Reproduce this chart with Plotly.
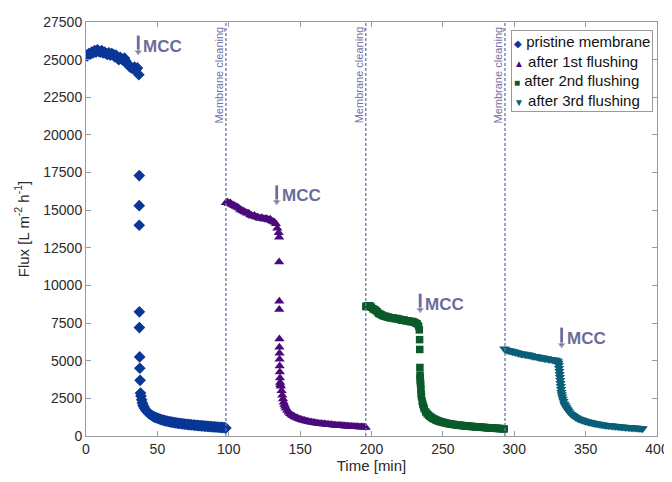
import plotly.graph_objects as go

# ---------------- data ----------------
t_pristine = [0, 1, 2, 3, 4, 5, 6, 7, 8, 9, 10, 11, 12, 13, 14, 15, 16, 17, 18, 19,
              20, 21, 22, 23, 24, 25, 26, 27, 28, 29, 30, 31, 32, 33, 34, 35, 36, 37,
              37.3, 37.3, 37.3, 37.4, 37.4, 37.6, 37.7, 37.9, 38.2,
              38.5, 39, 39.5, 40, 40.5, 41, 42, 43, 44, 45, 46, 47, 48, 49, 50, 51, 52,
              53, 54, 55, 56, 57, 58, 59, 60, 61, 62, 63, 64, 65, 66, 67, 68, 69, 70,
              71, 72, 73, 74, 75, 76, 77, 78, 79, 80, 81, 82, 83, 84, 85, 86, 87, 88,
              89, 90, 91, 92, 93, 94, 95, 96, 97, 98]
f_pristine = [25300, 25250, 25400, 25350, 25500, 25450, 25600, 25500, 25650, 25550,
              25500, 25600, 25450, 25500, 25400, 25350, 25450, 25300, 25400, 25350,
              25200, 25300, 25100, 25000, 25150, 25050, 24950, 25100, 24900, 24750,
              24600, 24500, 24450, 24400, 24500, 24350, 24450, 24000,
              17300, 15300, 14000, 8250, 7200, 5250, 4500, 3700, 2850,
              2650, 2400, 2200, 2050, 1950, 1850, 1700, 1600, 1500, 1430, 1370, 1310,
              1260, 1220, 1180, 1150, 1110, 1080, 1050, 1020, 1000, 980, 960, 940, 920,
              905, 890, 875, 860, 845, 830, 818, 805, 792, 780, 770, 760, 750, 740, 730,
              720, 710, 700, 692, 685, 678, 670, 660, 650, 642, 635, 628, 620, 612, 605,
              598, 590, 582, 575, 568, 560, 550, 530]

t_flush1 = [98, 99, 100, 101, 102, 103, 104, 105, 106, 107, 108, 109, 110, 111, 112,
            113, 114, 115, 116, 117, 118, 119, 120, 121, 122, 123, 124, 125, 126, 127,
            128, 129, 130, 131, 132, 133, 134, 135, 135.3,
            135.3, 135.4, 135.4, 135.5, 135.5, 135.6, 135.6, 135.7, 135.8, 135.9, 136.0, 136.1,
            136.5, 137, 137.5, 138, 138.5, 139, 139.5, 140, 141, 142, 143, 144, 145, 146,
            147, 148, 149, 150, 151, 152, 153, 154, 155, 156, 157, 158, 159, 160, 161,
            162, 163, 164, 165, 166, 167, 168, 169, 170, 171, 172, 173, 174, 175, 176,
            177, 178, 179, 180, 181, 182, 183, 184, 185, 186, 187, 188, 189, 190, 191,
            192, 193, 194, 195, 196]
f_flush1 = [15500, 15550, 15450, 15500, 15400, 15350, 15300, 15250, 15200, 15150,
            15050, 15000, 14950, 14900, 14850, 14800, 14800, 14700, 14650, 14600,
            14650, 14550, 14550, 14500, 14450, 14500, 14450, 14400, 14450, 14400,
            14350, 14400, 14300, 14250, 14200, 14100, 13800, 13500, 13200,
            11550, 8950, 8400, 6450, 5900, 5500, 5100, 4650, 4250, 3850, 3550, 3400,
            3300, 3000, 2700, 2450, 2250, 2100, 1970, 1850, 1700, 1580, 1480, 1400,
            1340, 1280, 1230, 1190, 1150, 1110, 1080, 1050, 1025, 1000, 975, 950, 930,
            910, 895, 880, 865, 850, 835, 820, 810, 800, 790, 780, 770, 760, 750, 740,
            730, 720, 712, 705, 698, 690, 682, 675, 668, 660, 652, 645, 638, 630, 625,
            620, 615, 610, 605, 600, 595, 590, 582, 570]

t_flush2 = [196, 197, 198, 199, 200, 201, 202, 203, 204, 205, 206, 207, 208, 209, 210,
            211, 212, 213, 214, 215, 216, 217, 218, 219, 220, 221, 222, 223, 224, 225,
            226, 227, 228, 229, 230, 231, 232, 233, 233.5,
            233.7, 233.8, 233.9, 234, 234.1, 234.2, 234.3, 234.4, 234.6, 234.8, 235, 235.5,
            236, 236.5, 237, 238, 239, 240, 241, 242, 243, 244, 245, 246, 247, 248, 249,
            250, 251, 252, 253, 254, 255, 256, 257, 258, 259, 260, 261, 262, 263, 264,
            265, 266, 267, 268, 269, 270, 271, 272, 273, 274, 275, 276, 277, 278, 279,
            280, 281, 282, 283, 284, 285, 286, 287, 288, 289, 290, 291, 292, 293]
f_flush2 = [8600, 8650, 8600, 8650, 8550, 8450, 8400, 8350, 8250, 8150, 8100, 8050,
            8000, 7950, 7950, 7900, 7900, 7850, 7850, 7850, 7800, 7800, 7800, 7750,
            7750, 7700, 7700, 7700, 7650, 7650, 7650, 7600, 7600, 7600, 7550, 7500,
            7450, 7300, 7050,
            6400, 5750, 4550, 4050, 3880, 3700, 3550, 3400, 3100, 2800, 2600, 2300,
            2100, 1950, 1800, 1600, 1480, 1380, 1300, 1230, 1170, 1120, 1070, 1030, 990,
            960, 935, 910, 885, 860, 840, 820, 805, 790, 775, 760, 745, 730, 720, 710,
            700, 690, 680, 670, 660, 650, 642, 635, 628, 620, 612, 605, 598, 590, 582,
            575, 568, 560, 552, 545, 538, 530, 525, 520, 512, 505, 500, 495, 488, 480,
            470]

t_flush3 = [293, 294, 295, 296, 297, 298, 299, 300, 301, 302, 303, 304, 305, 306, 307,
            308, 309, 310, 311, 312, 313, 314, 315, 316, 317, 318, 319, 320, 321, 322,
            323, 324, 325, 326, 327, 328, 329, 330, 330.5, 331, 331.2, 331.4, 331.6,
            331.8, 332, 332.2, 332.4, 332.6, 332.8, 333, 333.3, 333.6, 334, 334.5, 335,
            335.5, 336, 336.5, 337, 337.5, 338, 339, 340, 341, 342, 343, 344, 345, 346,
            347, 348, 349, 350, 351, 352, 353, 354, 355, 356, 357, 358, 359, 360, 361,
            362, 363, 364, 365, 366, 367, 368, 369, 370, 371, 372, 373, 374, 375, 376,
            377, 378, 379, 380, 381, 382, 383, 384, 385, 386, 387, 388, 389, 390]
f_flush3 = [5800, 5750, 5700, 5700, 5650, 5650, 5600, 5600, 5550, 5550, 5500, 5500,
            5450, 5450, 5450, 5400, 5400, 5400, 5350, 5350, 5300, 5300, 5300, 5250,
            5250, 5200, 5200, 5200, 5150, 5150, 5150, 5100, 5100, 5100, 5050, 5050,
            5050, 5000, 4950, 4850, 4700, 4500, 4300, 4100, 3900, 3700, 3500, 3300,
            3100, 2900, 2750, 2600, 2450, 2300, 2150, 2050, 1950, 1870, 1800, 1720,
            1650, 1550, 1450, 1380, 1310, 1250, 1200, 1150, 1110, 1075, 1040, 1010,
            980, 955, 930, 910, 890, 870, 850, 830, 810, 795, 780, 765, 750, 735, 720,
            710, 700, 690, 680, 670, 660, 650, 640, 630, 620, 610, 600, 592, 585, 578,
            570, 562, 555, 548, 540, 532, 525, 518, 510, 505, 500]

series_names = ["pristine membrane", "after 1st flushing", "after 2nd flushing", "after 3rd flushing"]
series_colors = ["#0a3796", "#4a0a7c", "#0a5a2a", "#0a5f78"]
series_symbols = ["diamond", "triangle-up", "square", "triangle-down"]
legend_glyphs = ["\u25C6", "\u25B2", "\u25A0", "\u25BC"]

cleaning_times = [98, 196, 293.5]
mcc_times = [36.6, 133.6, 234.1, 333.2]
mcc_top_flux = [26600, 16650, 9450, 7200]
mcc_head_flux = [25500, 15550, 8380, 6050]
mcc_label_flux = [25900, 15950, 8750, 6500]

x_ticks = [0, 50, 100, 150, 200, 250, 300, 350, 400]
y_ticks = [0, 2500, 5000, 7500, 10000, 12500, 15000, 17500, 20000, 22500, 25000, 27500]

FONT = "Liberation Sans, Arial, sans-serif"

# ---------------- figure ----------------
fig = go.Figure()
all_t = [t_pristine, t_flush1, t_flush2, t_flush3]
all_f = [f_pristine, f_flush1, f_flush2, f_flush3]
sizes = [9, 9, 7.5, 9]
for t, f, name, col, sym, sz in zip(all_t, all_f, series_names, series_colors, series_symbols, sizes):
    fig.add_trace(go.Scatter(x=t, y=f, mode="markers", name=name, showlegend=False,
                             marker=dict(symbol=sym, color=col, size=sz, line=dict(width=0))))

note_col = "#7272a6"
mcc_col = "#6c6c9c"

# MCC arrows
for mt, top, head in zip(mcc_times, mcc_top_flux, mcc_head_flux):
    fig.add_trace(go.Scatter(x=[mt, mt], y=[top, head], mode="lines+markers",
                             line=dict(color=mcc_col, width=2.8),
                             marker=dict(symbol="triangle-down", size=[0, 8], color=mcc_col),
                             showlegend=False, hoverinfo="skip"))

for ct in cleaning_times:
    fig.add_shape(type="line", xref="x", yref="paper", x0=ct, x1=ct, y0=0, y1=1,
                  line=dict(color=note_col, width=1.3, dash="3px,2px"))
    fig.add_annotation(x=ct, y=1, xref="x", yref="paper", text="Membrane cleaning",
                       textangle=-90, showarrow=False, xanchor="center", yanchor="top",
                       xshift=-7, yshift=-2,
                       font=dict(family=FONT, size=11, color=note_col))

for mt, lab in zip(mcc_times, mcc_label_flux):
    fig.add_annotation(x=mt, y=lab, xref="x", yref="y", text="<b>MCC</b>", showarrow=False,
                       xanchor="left", yanchor="middle", xshift=3,
                       font=dict(family=FONT, size=17, color=mcc_col))

# legend box (glyph + label per series)
legend_rows = []
for g, name, col in zip(legend_glyphs, series_names, series_colors):
    legend_rows.append('<span style="color:%s;font-size:10px">%s</span> %s' % (col, g, name))
fig.add_annotation(x=0.993, y=0.981, xref="paper", yref="paper", xanchor="right", yanchor="top",
                   text="<br>".join(legend_rows), showarrow=False, align="left",
                   bgcolor="white", bordercolor="#9a9a9a", borderwidth=1, borderpad=2,
                   font=dict(family=FONT, size=15, color="#111111"))

axis_common = dict(showline=True, linecolor="#9a9a9a", linewidth=1, mirror="ticks",
                   ticks="inside", ticklen=5, tickcolor="#9a9a9a", showgrid=False,
                   zeroline=False, automargin=False, tickfont=dict(size=14, color="#2a2a2a"))

fig.update_layout(
    width=664, height=474,
    margin=dict(l=78, r=15, t=14, b=46),
    paper_bgcolor="white", plot_bgcolor="white",
    font=dict(family=FONT, color="#2a2a2a"),
    showlegend=False,
    xaxis=dict(range=[0, 400], tickvals=x_ticks, ticktext=[str(v) for v in x_ticks],
               title=dict(text="Time [min]", font=dict(size=15), standoff=4), **axis_common),
    yaxis=dict(range=[0, 27500], tickvals=y_ticks, ticktext=[str(v) for v in y_ticks],
               title=dict(text="Flux [L m<sup>-2</sup> h<sup>-1</sup>]", font=dict(size=15), standoff=10),
               **axis_common),
)

fig.write_html("out.html")
